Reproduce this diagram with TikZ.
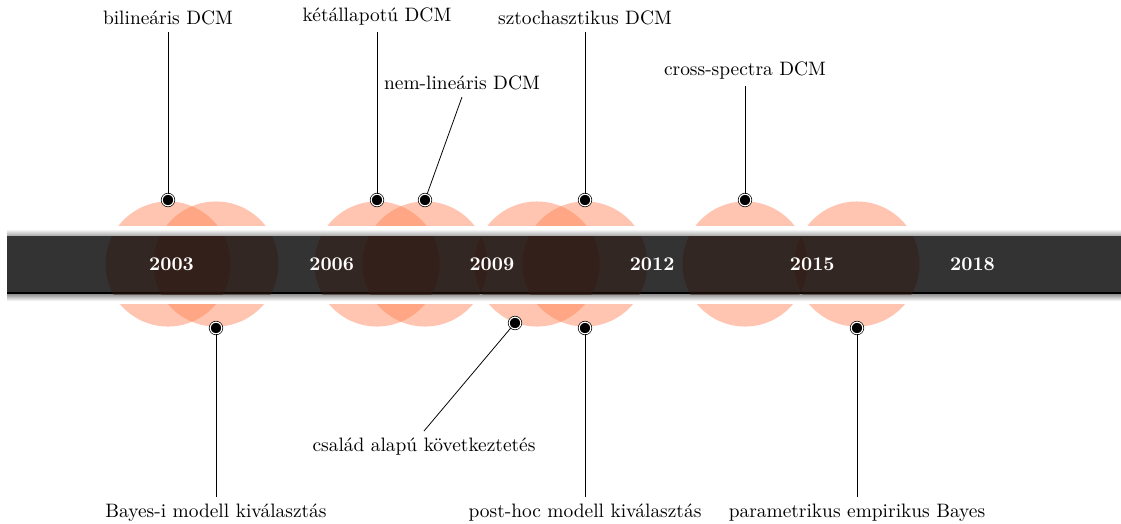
\documentclass[tikz,border=0pt]{standalone}
\usepackage{tikz}
\definecolor{evcoral}{RGB}{255,127,80}
\definecolor{evdark}{RGB}{51,25,16}
\definecolor{bandgray}{RGB}{51,51,51}
\tikzset{
  evcirc/.style={fill=evcoral, fill opacity=0.45},
  evshade/.style={fill=evdark, fill opacity=0.45},
  evdot/.style={circle, fill=black, draw=black, line width=0.35pt, double=white, double distance=0.6pt, minimum size=6pt, inner sep=0pt},
  yearlbl/.style={text=white, font=\bfseries}
}

\begin{document}
\begin{tikzpicture}[x=0.515pt,y=-0.515pt]
\useasboundingbox (0,0) rectangle (1121,523);
\foreach \cx in {168,216,377,425,537,585,745,857}
  \fill[evcirc] (\cx,264) circle (32.2pt);
\fill[white] (7,226) rectangle (1121,304);
\shade[top color=white, bottom color=gray!70] (7,229) rectangle (1121,236);
\fill[bandgray] (7,236) rectangle (1121,292);
\fill[black] (7,292) rectangle (1121,294.5);
\shade[top color=gray!80, bottom color=white] (7,294.5) rectangle (1121,301);
\begin{scope}
\clip (7,236) rectangle (1121,294.5);
\foreach \cx in {168,216,377,425,537,585,745,857}
  \fill[evshade] (\cx,264) circle (32.2pt);
\end{scope}
\foreach \yr [count=\i from 0] in {2003,2006,2009,2012,2015,2018}
  \node[yearlbl] (y\yr) at ({171.5+160.2*\i},264) {\yr};
\node[evdot] (dbilin) at (168,200) {};
\node[evdot] (dketall) at (377,200) {};
\node[evdot] (dnemlin) at (425,200) {};
\node[evdot] (dsztoch) at (585,200) {};
\node[evdot] (dcross) at (745,200) {};
\node[evdot] (dbayesi) at (216,328) {};
\node[evdot] (dcsalad) at (515,323) {};
\node[evdot] (dposthoc) at (585,328) {};
\node[evdot] (dparam) at (857,328) {};
\node[anchor=south] (bilin) at (168,32) {bilineáris DCM};
\node[anchor=south] (ketall) at (377,32) {kétállapotú DCM};
\node[anchor=south] (nemlin) at (462,97) {nem-lineáris DCM};
\node[anchor=south] (sztoch) at (585,32) {sztochasztikus DCM};
\node[anchor=south] (cross) at (745,86) {cross-spectra DCM};
\node[anchor=north] (bayesi) at (216,497) {Bayes-i modell kiválasztás};
\node[anchor=north] (csalad) at (424,431) {család alapú következtetés};
\node[anchor=north] (posthoc) at (585,497) {post-hoc modell kiválasztás};
\node[anchor=north] (param) at (857,497) {parametrikus empirikus Bayes};
\draw (bilin.south) -- (dbilin);
\draw (ketall.south) -- (dketall);
\draw (nemlin.south) -- (dnemlin);
\draw (sztoch.south) -- (dsztoch);
\draw (cross.south) -- (dcross);
\draw (bayesi.north) -- (dbayesi);
\draw (csalad.north) -- (dcsalad);
\draw (posthoc.north) -- (dposthoc);
\draw (param.north) -- (dparam);
\end{tikzpicture}
\end{document}
